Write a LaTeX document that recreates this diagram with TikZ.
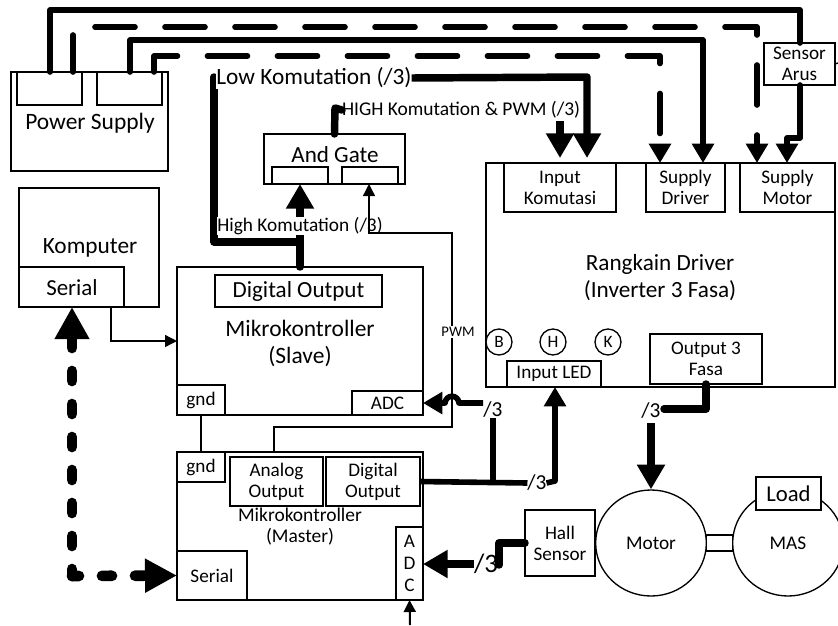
\documentclass[tikz,border=0pt]{standalone}
\usepackage{fontspec}
\setmainfont{Carlito}
\usetikzlibrary{arrows.meta,shapes.geometric}
\newcommand{\fs}[2]{\fontsize{#1}{#2}\selectfont}
\newcommand{\bx}[7][]{\node[boxy,#1,minimum width={(#5-#3)*0.75pt},minimum height={(#6-#4)*0.75pt}] (#2) at ({(#3+#5)/2},{(#4+#6)/2}) {#7};}
\tikzset{
  x=0.75pt,y=-0.75pt,
  boxy/.style={draw=black,fill=white,line width=1pt,inner sep=0pt,outer sep=0pt,align=center,font=\fs{14.4}{15.75}},
  lbl/.style={inner sep=0pt,outer sep=0pt,align=center,font=\fs{16}{15.75}},
  wirethin/.style={draw=black,line width=1pt},
  wirea/.style={draw=black,line width=4.2pt,line cap=round,line join=round},
  wireb/.style={draw=black,line width=5.6pt,line cap=round,line join=round},
  wirebutt/.style={draw=black,line width=5.6pt,line cap=butt,line join=round},
  wiredash/.style={dash pattern=on 30pt off 22.5pt,dash phase=#1},
  serialdash/.style={draw=black,line width=8pt,line cap=round,dash pattern=on 7.5pt off 17.25pt,dash phase=2.25pt},
  headS/.style={-{Triangle[length=14.5pt,width=16pt]}},
  headM/.style={-{Triangle[length=18.5pt,width=20pt]}},
  headT/.style={-{Triangle[length=9pt,width=9pt]}},
}
\begin{document}
\begin{tikzpicture}
\path[use as bounding box] (0,0) rectangle (838,625);
\clip (0,0) rectangle (838,625);
% power supply
\bx{ps}{11}{72}{168}{171}{}
\bx{psa}{17}{72}{82}{105}{}
\bx{psb}{97}{72}{162}{105}{}
\node[lbl,font=\fs{17.6}{18}] (pstxt) at (90,123.5) {Power Supply};
% komputer
\bx{pc}{19}{188}{159}{307}{}
\bx{pcser}{19}{267}{124}{307}{}
\node[lbl,font=\fs{17.5}{18}] (pctxt) at (90,248) {Komputer};
\node[lbl,font=\fs{17.2}{18}] (pcsertxt) at (72,288) {Serial};
% and gate
\bx{andg}{264}{134}{405}{184}{}
\bx{anda}{272}{167}{328}{184}{}
\bx{andb}{342}{167}{398}{184}{}
\node[lbl,font=\fs{17.3}{18}] (andtxt) at (335,155) {And Gate};
% slave
\bx{slave}{177}{267}{423}{415}{}
\bx{slavedo}{215}{275}{382}{307}{\fs{17.3}{18}Digital Output}
\node[lbl,font=\fs{17.6}{20.5}] (slavetxt) at (300,343.5) {Mikrokontroller\\(Slave)};
\bx{slavegnd}{177}{385}{225}{415}{gnd}
\bx{slaveadc}{352}{391}{423}{415}{ADC}
% master
\bx{master}{177}{452}{423}{600}{}
\bx{mastergnd}{177}{452}{225}{482}{gnd}
\bx{analog}{230}{457}{323}{506}{Analog\\Output}
\bx{digital}{326}{457}{420}{506}{Digital\\Output}
\node[lbl,font=\fs{14.6}{15.75}] (mastertxt) at (300,527) {Mikrokontroller\\(Master)};
\bx{masteradc}{396}{527}{423}{600}{A\\[0.5pt]D\\[0.5pt]C}
\bx{masterser}{177}{551}{247}{600}{Serial}
% driver
\bx{driver}{486}{163}{835}{387}{}
\bx{inkom}{504}{163}{616}{212}{Input\\Komutasi}
\bx{supdrv}{646}{163}{725}{212}{Supply\\Driver}
\bx{supmot}{740}{163}{835}{212}{Supply\\Motor}
\node[lbl,font=\fs{17.4}{20}] (drvtxt) at (660,277.5) {Rangkain Driver\\(Inverter 3 Fasa)};
\node[circle,draw=black,fill=white,line width=1pt,minimum size=19.5pt,inner sep=0pt,font=\fs{13}{15}] (ledb) at (499,342) {B};
\node[circle,draw=black,fill=white,line width=1pt,minimum size=19.5pt,inner sep=0pt,font=\fs{13}{15}] (ledh) at (553,342) {H};
\node[circle,draw=black,fill=white,line width=1pt,minimum size=19.5pt,inner sep=0pt,font=\fs{13}{15}] (ledk) at (608,342) {K};
\bx{inled}{507}{361}{601}{387}{Input LED}
\bx{outfasa}{650}{334}{762}{384}{Output 3\\Fasa}
% sensor arus
\bx{arus}{764}{43}{835}{85}{Sensor\\Arus}
\coordinate (arustick) at (838,63);
\draw[wirethin] (arus.east) -- (arustick);
% motor
\bx{hall}{525}{510}{595}{576}{Hall\\Sensor}
\bx{shaft}{706}{535}{733}{551}{}
\node[ellipse,draw=black,fill=white,line width=1pt,minimum width=83pt,minimum height=79.5pt,inner sep=0pt,font=\fs{14.5}{16}] (motor) at (651,543) {Motor};
\node[ellipse,draw=black,fill=white,line width=1pt,minimum width=83pt,minimum height=79.5pt,inner sep=0pt,font=\fs{14.5}{16}] (mas) at (788,543) {MAS};
\bx{load}{756}{477}{821}{510}{\fs{17}{18}Load}
% top wires
\coordinate (xa) at (50,0);
\coordinate (xb) at (73,0);
\coordinate (xc) at (130,0);
\coordinate (xd) at (154,0);
\coordinate (tipa) at (703,163);
\coordinate (tipb) at (660,163);
\coordinate (tipc) at (757,163);
\coordinate (tipd) at (787,163);
\draw[wirea] (xa |- psa.north) -- (50,10) -- (800,10) -- (800,43);
\draw[wirea,headS] (800,85) -- (800,138) -- (787,138) -- (tipd);
\draw[wirea,wiredash=2.25pt,headS] (xb |- psa.north) -- (73,27) -- (757,27) -- (tipc);
\draw[wirea,headS] (xc |- psb.north) -- (130,40) -- (703,40) -- (tipa);
\draw[wirea,wiredash=0.4pt,headS] (xd |- psb.north) -- (154,56) -- (660,56) -- (tipb);
% komutation
\coordinate (tipe) at (587,158);
\coordinate (tipf) at (560,158);
\coordinate (starf) at (560,121);
\coordinate (xf) at (300,0);
\draw[wireb,line cap=round] (xf |- slave.north) -- (300,242) -- (214,242) -- (214,77);
\draw[wirebutt,headM] (300,242) -- (300,184);
\node[lbl,fill=white,inner ysep=0.5pt,font=\fs{17.5}{18}] (lowk) at (314,78) {Low Komutation (/3)};
\draw[wirebutt,headM] (lowk.east) -- (587,77) -- (tipe);
\node[lbl,fill=white,inner ysep=0.5pt,font=\fs{14.5}{16}] (highk) at (300,226) {High Komutation (/3)};
\node[lbl,fill=white,font=\fs{14.6}{16},anchor=west] (hik) at (342,110) {HIGH Komutation \& PWM (/3)};
\draw[wireb] (andg.north) -- (335,108) -- (hik.west);
\draw[wirebutt,headM] (starf) -- (tipf);
% PWM
\coordinate (xp) at (274,0);
\node[lbl,fill=white,inner ysep=1pt,font=\fs{11}{12}] (pwm) at (458,332) {PWM};
\draw[wirethin] (xp |- master.north) -- (274,427) -- (452,427) -- (pwm.south -| 452,0);
\draw[wirethin,headT] (pwm.north -| 452,0) -- (452,233) -- (369,233) -- (369,184);
% komputer to slave
\coordinate (xs) at (111,0);
\draw[wirethin,headT] (xs |- pcser.south) -- (111,341) -- (slave.west |- 0,341);
% gnd
\draw[wirethin] (slavegnd) -- (mastergnd);
% serial
\coordinate (corner) at (72,576);
\draw[serialdash,-{Triangle[length=24pt,width=24.5pt]}] (corner) -- (72,307);
\draw[serialdash,-{Triangle[length=24pt,width=24pt]}] (corner) -- (masterser.west);
% digital output to LED + ADC
\node[lbl] (sl1) at (537,483) {/3};
\node[lbl] (sl2) at (493,410) {/3};
\coordinate (bra) at (493,481);
\draw[wirea,line cap=butt] (digital.east) -- (sl1.west);
\draw[wirea,line cap=butt] (bra) -- (sl2.south);
\draw[wirea,line cap=butt,headS] (sl1.east) -- (555,481) -- (inled.south -| 555,0);
\draw[wirea,line cap=butt,headS] (483,403) -- (459,403) .. controls (458,394) and (446,394) .. (445,403) -- (slaveadc.east |- 0,403);
% output fasa
\node[lbl] (sl3) at (651,411) {/3};
\draw[wireb] (706,384) -- (706,409) -- (664,409);
\coordinate (st3) at (651,423);
\draw[wirebutt,headM] (st3) -- (motor.north);
% hall
\node[lbl,font=\fs{20}{20}] (sl4) at (486,564) {/3};
\draw[wireb] (hall.west) -- (499,543) -- (499,565);
\draw[wirebutt,headM] (sl4.west) -- (masteradc.east |- 0,564);
% ADC input
\coordinate (adcin) at (410,625);
\draw[draw=black,line width=1.5pt,headT] (adcin) -- (masteradc.south);
\end{tikzpicture}
\end{document}
